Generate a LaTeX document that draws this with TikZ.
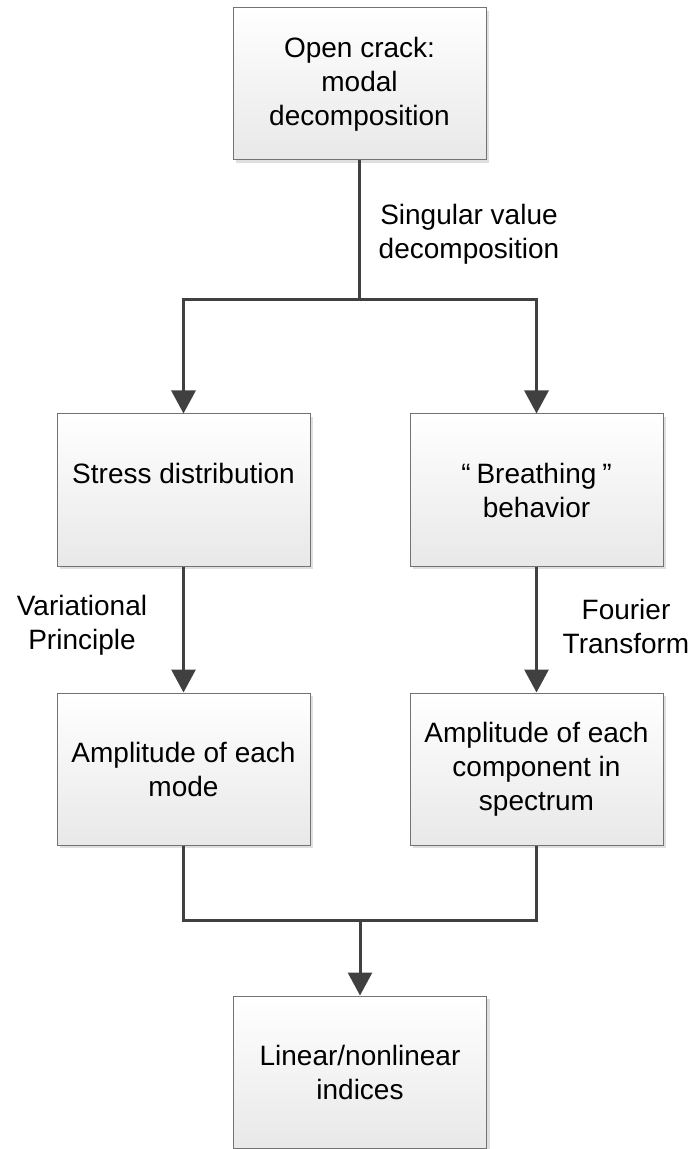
\documentclass[tikz,border=0pt]{standalone}
\usepackage{fontspec}
\setmainfont{Liberation Sans}
\usepackage{tikz}
\usetikzlibrary{arrows.meta,shadows}

\begin{document}
\begin{tikzpicture}[x=0.5pt,y=-0.5pt]
			\tikzset{stepbox/.style={draw=black!55,line width=0.5pt,top color=white,bottom color=black!9,minimum width=126.5pt,minimum height=76pt,align=center,font=\fontsize{14}{17}\selectfont,drop shadow={shadow xshift=1.5pt,shadow yshift=-1.5pt,opacity=0.25}}}
			\tikzset{flow/.style={draw=black!75,line width=1.5pt}}
			\tikzset{flowarr/.style={flow,-{Triangle[width=12pt,length=11.5pt]}}}
			\tikzset{steplabel/.style={align=center,font=\fontsize{14}{17}\selectfont}}
			\useasboundingbox (0,0) rectangle (695,1149);
			% boxes
			\node[stepbox] (open) at (359.5,84) {Open crack:\\modal\\decomposition};
			\node[stepbox] (stress) at (183.5,490) {Stress distribution\\~};
			\node[stepbox] (breath) at (536.5,490) {“\hspace{3pt}Breathing\hspace{3pt}”\\behavior};
			\node[stepbox] (ampmode) at (183.5,769) {Amplitude of each\\mode};
			\node[stepbox] (ampspec) at (536.5,769) {Amplitude of each\\component in\\spectrum};
			\node[stepbox] (indices) at (360,1072) {Linear/nonlinear\\indices};
			% labels
			\node[steplabel] (svd) at (469,234) {Singular value\\decomposition};
			\node[steplabel] (varp) at (82,625) {Variational\\Principle};
			\node[steplabel] (fourier) at (626,626) {Fourier\\Transform};
			% connectors
			\coordinate (split) at (359.5,300);
			\coordinate (merge) at (360,920);
			\draw[flow] (open.south) -- (split);
			\draw[flowarr] (split) -| (stress.north);
			\draw[flowarr] (split) -| (breath.north);
			\draw[flowarr] (stress) -- (ampmode);
			\draw[flowarr] (breath) -- (ampspec);
			\draw[flow] (ampmode.south) |- (merge) -| (ampspec.south);
			\draw[flowarr] (merge) -- (indices.north);
		\end{tikzpicture}
\end{document}
